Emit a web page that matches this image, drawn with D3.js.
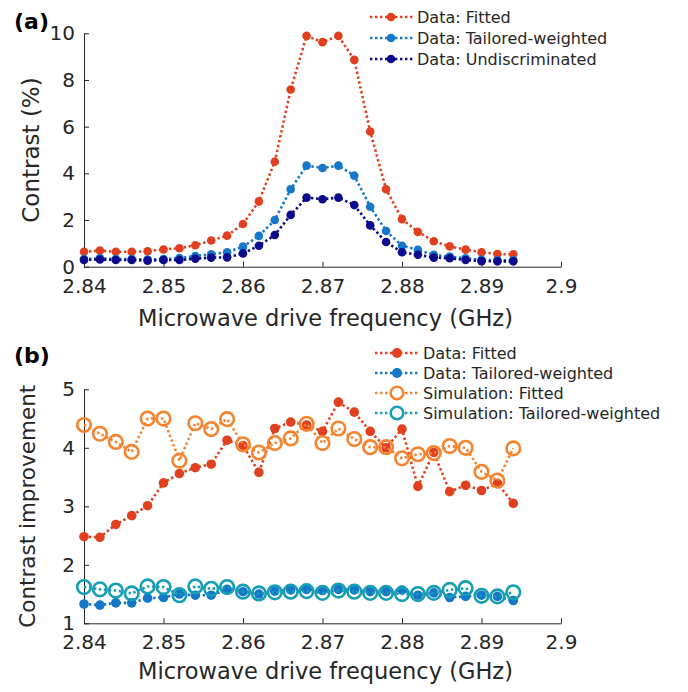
<!DOCTYPE html>
<html>
<head>
<meta charset="utf-8">
<script src="https://cdn.jsdelivr.net/npm/d3@7"></script>
<style>
  body { margin: 0; background: #fff; }
  svg { display: block; font-family: "DejaVu Sans", sans-serif; }
</style>
</head>
<body>
<div id="chart"></div>
<script>
// Frequencies (GHz), 2.840 .. 2.894 in 2 MHz steps
const freq = [2.840, 2.842, 2.844, 2.846, 2.848, 2.850, 2.852, 2.854, 2.856, 2.858,
              2.860, 2.862, 2.864, 2.866, 2.868, 2.870, 2.872, 2.874, 2.876, 2.878,
              2.880, 2.882, 2.884, 2.886, 2.888, 2.890, 2.892, 2.894];

// Panel (a): contrast (%)
const contrastFitted = [0.64, 0.69, 0.64, 0.64, 0.66, 0.74, 0.79, 0.92, 1.12, 1.33,
                        1.83, 2.80, 4.50, 7.59, 9.89, 9.62, 9.89, 8.86, 5.79, 3.32,
                        2.04, 1.49, 1.09, 0.87, 0.73, 0.62, 0.54, 0.53];
const contrastTailored = [0.33, 0.36, 0.33, 0.33, 0.31, 0.33, 0.37, 0.46, 0.53, 0.62,
                          0.86, 1.32, 2.00, 3.32, 4.33, 4.23, 4.33, 3.90, 2.57, 1.53,
                          0.90, 0.72, 0.51, 0.43, 0.36, 0.30, 0.27, 0.29];
const contrastUndisc = [0.29, 0.31, 0.29, 0.29, 0.26, 0.29, 0.29, 0.34, 0.39, 0.40,
                        0.57, 0.90, 1.36, 2.22, 2.96, 2.89, 2.96, 2.64, 1.77, 1.06,
                        0.62, 0.51, 0.39, 0.36, 0.29, 0.24, 0.23, 0.23];
const contrastErr = [0.12, 0.10, 0.10]; // half-width of error bars per series

// Panel (b): contrast improvement
const improvDataFitted = [2.48, 2.47, 2.69, 2.84, 3.01, 3.40, 3.56, 3.66, 3.72, 4.13,
                          4.04, 3.58, 4.33, 4.44, 4.39, 4.28, 4.78, 4.61, 4.28, 4.00,
                          4.32, 3.34, 3.92, 3.25, 3.36, 3.27, 3.39, 3.05];
const improvDataTailored = [1.33, 1.31, 1.35, 1.35, 1.43, 1.44, 1.50, 1.48, 1.48, 1.58,
                            1.54, 1.50, 1.55, 1.57, 1.58, 1.56, 1.58, 1.57, 1.54, 1.54,
                            1.57, 1.48, 1.52, 1.44, 1.46, 1.48, 1.46, 1.39];
const improvSimFitted = [4.39, 4.24, 4.10, 3.93, 4.50, 4.50, 3.78, 4.42, 4.32, 4.49,
                         4.06, 3.92, 4.08, 4.16, 4.41, 4.08, 4.33, 4.15, 4.01, 4.01,
                         3.82, 3.89, 3.91, 4.03, 4.00, 3.59, 3.44, 3.99];
const improvSimTailored = [1.62, 1.58, 1.56, 1.51, 1.63, 1.62, 1.48, 1.63, 1.59, 1.62,
                           1.54, 1.51, 1.53, 1.54, 1.55, 1.52, 1.56, 1.54, 1.52, 1.52,
                           1.50, 1.50, 1.52, 1.57, 1.60, 1.47, 1.46, 1.53];
const simErr = 0.04;

const xTicks = [2.84, 2.85, 2.86, 2.87, 2.88, 2.89, 2.9];
const xTickLabels = ["2.84", "2.85", "2.86", "2.87", "2.88", "2.89", "2.9"];
const yTicksA = [0, 2, 4, 6, 8, 10];
const yTicksB = [1, 2, 3, 4, 5];

const labelsA = ["Data: Fitted", "Data: Tailored-weighted", "Data: Undiscriminated"];
const labelsB = ["Data: Fitted", "Data: Tailored-weighted", "Simulation: Fitted", "Simulation: Tailored-weighted"];

const colRed = "#e0401f", colBlue = "#1477c7", colNavy = "#0b0b8c",
      colOrange = "#f4842f", colTeal = "#169eb4", axisCol = "#262626";

const width = 688, height = 692;
const svg = d3.select("#chart").append("svg")
    .attr("width", width)
    .attr("height", height);

const x = d3.scaleLinear().domain([2.84, 2.9]).range([84, 561]);
const yA = d3.scaleLinear().domain([0, 10]).range([266.7, 33.3]);
const yB = d3.scaleLinear().domain([1, 5]).range([623.3, 389.3]);

function drawAxes(y, yTicks, xlabel, xlabelOff, ylabel, ylabelX, ylabelSize) {
    const y0 = y.range()[0];
    const gx = svg.append("g")
        .attr("transform", `translate(0,${y0})`)
        .call(d3.axisBottom(x).tickValues(xTicks)
            .tickFormat((d, i) => xTickLabels[i])
            .tickSizeInner(-5).tickSizeOuter(0).tickPadding(12));
    const gy = svg.append("g")
        .attr("transform", `translate(${x.range()[0]},0)`)
        .call(d3.axisLeft(y).tickValues(yTicks).tickFormat(d3.format("d"))
            .tickSizeInner(-5).tickSizeOuter(0).tickPadding(9));
    [gx, gy].forEach(g => {
        g.select(".domain").attr("stroke", axisCol).attr("stroke-width", 1);
        g.selectAll(".tick line").attr("stroke", axisCol);
        g.selectAll(".tick text").attr("fill", axisCol)
            .style("font-size", "20px").style("font-family", "DejaVu Sans");
    });
    svg.append("text")
        .attr("x", (x.range()[0] + x.range()[1]) / 2 + 3)
        .attr("y", y0 + xlabelOff)
        .attr("text-anchor", "middle")
        .attr("fill", axisCol)
        .style("font-size", "22.5px")
        .text(xlabel);
    const yMid = (y.range()[0] + y.range()[1]) / 2;
    svg.append("text")
        .attr("transform", `translate(${ylabelX},${yMid}) rotate(-90)`)
        .attr("text-anchor", "middle")
        .attr("fill", axisCol)
        .style("font-size", ylabelSize + "px")
        .text(ylabel);
}

function dotted(g, y, vals, color) {
    const line = d3.line().x((d, i) => x(freq[i])).y(d => y(d));
    g.append("path")
        .datum(vals)
        .attr("d", line)
        .attr("fill", "none")
        .attr("stroke", color)
        .attr("stroke-width", 2.6)
        .attr("stroke-dasharray", "2.4,2.6");
}

function errorBars(g, px, py, top, bot, color, cap, sw) {
    g.append("line").attr("x1", px).attr("x2", px).attr("y1", top).attr("y2", bot)
        .attr("stroke", color).attr("stroke-width", sw);
    [top, bot].forEach(yy => g.append("line")
        .attr("x1", px - cap).attr("x2", px + cap).attr("y1", yy).attr("y2", yy)
        .attr("stroke", color).attr("stroke-width", sw));
}

// ---------- Panel (a) ----------
drawAxes(yA, yTicksA, "Microwave drive frequency (GHz)", 59, "Contrast (%)", 39, 23);

const seriesA = [
    { vals: contrastFitted, color: colRed, err: contrastErr[0] },
    { vals: contrastTailored, color: colBlue, err: contrastErr[1] },
    { vals: contrastUndisc, color: colNavy, err: contrastErr[2] }
];

seriesA.forEach(s => {
    const g = svg.append("g");
    dotted(g, yA, s.vals, s.color);
    s.vals.forEach((v, i) => {
        const px = x(freq[i]);
        errorBars(g, px, yA(v + s.err), yA(v - s.err), s.color, 5, 2.4);
    });
    g.selectAll("circle").data(s.vals).join("circle")
        .attr("cx", (d, i) => x(freq[i]))
        .attr("cy", d => yA(d))
        .attr("r", 4.3)
        .attr("fill", s.color);
});

// legend (a)
seriesA.forEach((s, i) => {
    const ly = 17 + i * 21;
    const g = svg.append("g");
    g.append("line").attr("x1", 370).attr("x2", 413).attr("y1", ly).attr("y2", ly)
        .attr("stroke", s.color).attr("stroke-width", 2.6).attr("stroke-dasharray", "2.4,2.6");
    errorBars(g, 391, ly - 8, ly + 8, s.color, 3.5, 2.2);
    g.append("circle").attr("cx", 391).attr("cy", ly).attr("r", 4.3).attr("fill", s.color);
    g.append("text").attr("x", 417).attr("y", ly + 6)
        .attr("fill", axisCol).style("font-size", "16px").text(labelsA[i]);
});

// ---------- Panel (b) ----------
drawAxes(yB, yTicksB, "Microwave drive frequency (GHz)", 56, "Contrast improvement", 35, 21.5);

const seriesB = [
    { vals: improvDataFitted, color: colRed, sim: false },
    { vals: improvDataTailored, color: colBlue, sim: false },
    { vals: improvSimFitted, color: colOrange, sim: true },
    { vals: improvSimTailored, color: colTeal, sim: true }
];

seriesB.forEach(s => {
    const g = svg.append("g");
    dotted(g, yB, s.vals, s.color);
    if (s.sim) {
        s.vals.forEach((v, i) => {
            errorBars(g, x(freq[i]), yB(v + simErr), yB(v - simErr), s.color, 2.5, 1.8);
        });
        g.selectAll("circle").data(s.vals).join("circle")
            .attr("cx", (d, i) => x(freq[i]))
            .attr("cy", d => yB(d))
            .attr("r", 6.8)
            .attr("fill", "none")
            .attr("stroke", s.color)
            .attr("stroke-width", 2.6);
    } else {
        g.selectAll("circle").data(s.vals).join("circle")
            .attr("cx", (d, i) => x(freq[i]))
            .attr("cy", d => yB(d))
            .attr("r", 4.8)
            .attr("fill", s.color);
    }
});

// legend (b)
seriesB.forEach((s, i) => {
    const ly = 353 + i * 20;
    const g = svg.append("g");
    g.append("line").attr("x1", 375).attr("x2", 418).attr("y1", ly).attr("y2", ly)
        .attr("stroke", s.color).attr("stroke-width", 2.6).attr("stroke-dasharray", "2.4,2.6");
    if (s.sim) {
        g.append("circle").attr("cx", 397).attr("cy", ly).attr("r", 6.3)
            .attr("fill", "#fff").attr("stroke", s.color).attr("stroke-width", 2.6);
        errorBars(g, 397, ly - 3, ly + 3, s.color, 2.5, 1.8);
    } else {
        g.append("circle").attr("cx", 397).attr("cy", ly).attr("r", 5).attr("fill", s.color);
    }
    g.append("text").attr("x", 423).attr("y", ly + 6)
        .attr("fill", axisCol).style("font-size", "16px").text(labelsB[i]);
});

// panel letters
svg.append("text").attr("x", 14).attr("y", 29)
    .style("font-size", "22px").style("font-weight", "bold").attr("fill", "#000").text("(a)");
svg.append("text").attr("x", 14).attr("y", 363)
    .style("font-size", "22px").style("font-weight", "bold").attr("fill", "#000").text("(b)");
</script>
</body>
</html>
